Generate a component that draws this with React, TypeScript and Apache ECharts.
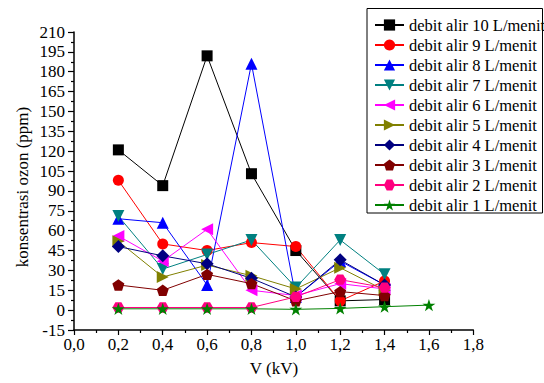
import React, { useEffect, useRef } from "react";
import * as echarts from "echarts";

const xVals = [0.2, 0.4, 0.6, 0.8, 1.0, 1.2, 1.4];
const xVals1 = [0.2, 0.4, 0.6, 0.8, 1.0, 1.2, 1.4, 1.6];

const names = [
  "debit alir 10 L/menit",
  "debit alir 9 L/menit",
  "debit alir 8 L/menit",
  "debit alir 7 L/menit",
  "debit alir 6 L/menit",
  "debit alir 5 L/menit",
  "debit alir 4 L/menit",
  "debit alir 3 L/menit",
  "debit alir 2 L/menit",
  "debit alir 1 L/menit",
];

const s10 = [121, 94, 192, 103, 45, 7, 8];
const s9 = [98, 50, 45, 51, 48, 7, 22];
const s8 = [69, 66, 19, 186, 10, 37, 19];
const s7 = [71, 31, 42, 53, 17, 53, 27];
const s6 = [56, 37, 61, 15, 11, 20, 16];
const s5 = [52, 25, 34, 26, 16, 32, 15];
const s4 = [48, 41, 35, 24, 10, 38, 19];
const s3 = [19, 15, 27, 20, 7, 14, 11];
const s2 = [2, 2, 2, 2, 10, 23, 17];
const s1 = [1, 1, 1, 1, 0.6, 1.3, 2.6, 3.8];

const PENTAGON = "path://M50,0 L97.6,34.5 L79.4,90.5 L20.6,90.5 L2.4,34.5 Z";
const HEXAGON = "path://M100,50 L75,93.3 L25,93.3 L0,50 L25,6.7 L75,6.7 Z";
const STAR =
  "path://M50,0 L61.2,34.5 L97.6,34.5 L68.2,55.9 L79.4,90.5 L50,69.1 L20.6,90.5 L31.8,55.9 L2.4,34.5 L38.8,34.5 Z";

const FONT = "Liberation Serif";
const txt = { fontFamily: FONT, fontSize: 17, color: "#000" };

export default function App() {
  const ref = useRef<HTMLDivElement>(null);
  useEffect(() => {
    if (!ref.current) return;
    const chart = echarts.init(ref.current, undefined, { renderer: "svg" });
    const pair = (xs: number[], ys: number[]) => ys.map((y, i) => [xs[i], y]);
    const specs = [
      { data: pair(xVals, s10), color: "#000000", symbol: "rect", size: 11, rot: 0 },
      { data: pair(xVals, s9), color: "#FF0000", symbol: "circle", size: 11, rot: 0 },
      { data: pair(xVals, s8), color: "#0000FF", symbol: "triangle", size: 12, rot: 0 },
      { data: pair(xVals, s7), color: "#008080", symbol: "triangle", size: 12, rot: 180 },
      { data: pair(xVals, s6), color: "#FF00FF", symbol: "triangle", size: 12, rot: 90 },
      { data: pair(xVals, s5), color: "#808000", symbol: "triangle", size: 12, rot: -90 },
      { data: pair(xVals, s4), color: "#000080", symbol: "diamond", size: 13, rot: 0 },
      { data: pair(xVals, s3), color: "#800000", symbol: PENTAGON, size: 12, rot: 0 },
      { data: pair(xVals, s2), color: "#FF0080", symbol: HEXAGON, size: 12, rot: 0 },
      { data: pair(xVals1, s1), color: "#008000", symbol: STAR, size: 13, rot: 0 },
    ];
    const series = specs.map((s, i) => ({
      name: names[i],
      type: "line",
      data: s.data,
      symbol: s.symbol,
      symbolSize: s.size,
      symbolRotate: s.rot,
      symbolKeepAspect: true,
      showAllSymbol: true,
      lineStyle: { color: s.color, width: 1 },
      itemStyle: { color: s.color, borderWidth: 0 },
      emphasis: { disabled: true },
    }));
    chart.setOption({
      animation: false,
      backgroundColor: "#ffffff",
      textStyle: { fontFamily: FONT },
      grid: { left: 74, top: 32, right: 70.7, bottom: 53 },
      legend: {
        orient: "vertical",
        left: 374,
        top: 16.5,
        padding: 0,
        itemWidth: 29,
        itemHeight: 14,
        itemGap: 3,
        textStyle: { fontFamily: FONT, fontSize: 16.5, color: "#000", lineHeight: 16 },
        data: names,
      },
      graphic: [
        {
          type: "rect",
          shape: { x: 367, y: 8.5, width: 175.5, height: 204.5 },
          style: { fill: "none", stroke: "#000", lineWidth: 1 },
          silent: true,
        },
        {
          type: "text",
          x: 274,
          y: 368,
          style: { text: "V (kV)", font: "17px Liberation Serif", fill: "#000", align: "center", verticalAlign: "middle" },
          silent: true,
        },
        {
          type: "text",
          x: 22,
          y: 187,
          rotation: Math.PI / 2,
          style: {
            text: "konsentrasi ozon (ppm)",
            font: "17px Liberation Serif",
            fill: "#000",
            align: "center",
            verticalAlign: "middle",
          },
          silent: true,
        },
      ],
      xAxis: {
        type: "value",
        min: 0,
        max: 1.8,
        interval: 0.2,
        axisLine: { show: true, onZero: false, lineStyle: { color: "#000", width: 1.5 } },
        axisTick: { show: true, inside: false, length: 5, lineStyle: { color: "#000", width: 1.2 } },
        minorTick: { show: true, splitNumber: 2, length: 3, lineStyle: { color: "#000", width: 1.2 } },
        splitLine: { show: false },
        axisLabel: {
          ...txt,
          margin: 6,
          formatter: (v: number) => v.toFixed(1).replace(".", ","),
        },
      },
      yAxis: {
        type: "value",
        min: -15,
        max: 210,
        interval: 15,
        axisLine: { show: true, onZero: false, lineStyle: { color: "#000", width: 1.5 } },
        axisTick: { show: true, inside: false, length: 6, lineStyle: { color: "#000", width: 1.2 } },
        minorTick: { show: true, splitNumber: 2, length: 3, lineStyle: { color: "#000", width: 1.2 } },
        splitLine: { show: false },
        axisLabel: { ...txt, margin: 9 },
      },
      series,
    });
    return () => chart.dispose();
  }, []);
  return <div ref={ref} style={{ width: 544, height: 383, position: "absolute", left: 0, top: 0 }} />;
}
